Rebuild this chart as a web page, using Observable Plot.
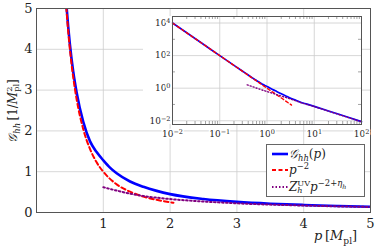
<!DOCTYPE html>
<html><head><meta charset="utf-8">
<script src="https://cdn.jsdelivr.net/npm/d3@7"></script>
<script src="https://cdn.jsdelivr.net/npm/@observablehq/plot@0.6"></script>
<style>
body{margin:0;background:#fff;}
#wrap{position:relative;width:376px;height:246px;font-family:"DejaVu Serif",serif;color:#222;overflow:hidden;}
#wrap svg text, #wrap svg tspan{font-family:"DejaVu Serif",serif !important;}
.abs{position:absolute;white-space:nowrap;}
sub,sup{font-size:70%;line-height:0;}
.stack{display:inline-block;vertical-align:middle;line-height:0.85;font-size:68%;text-align:left;margin-top:-2px;}
.stack span{display:block;}
</style></head><body>
<div id="wrap"></div>
<script>
// ---- data ----
const pBlue = [0.01,0.02,0.05,0.1,0.2,0.3,0.4,0.45,0.5,0.55,0.6,0.7,0.8,0.9,1.0,1.1,1.2,1.4,1.6,1.8,2.0,2.5,3.0,3.5,4.0,4.5,5.0,7,10,20,50,100];
const gBlue = [10000,2500,400,100,25.2,11.3,6.4,5.05,4.12,3.45,2.95,2.22,1.75,1.48,1.28,1.1,0.96,0.76,0.63,0.53,0.45,0.33,0.26,0.215,0.185,0.16,0.14,0.105,0.077,0.04,0.017,0.0088];
const pRed = [0.01,0.02,0.05,0.1,0.2,0.3,0.4,0.45,0.5,0.55,0.6,0.7,0.8,0.9,1,1.2,1.4,1.6,1.8,2.05,2.5,3.3];
const gRed = [10000,2500,400,100,25,11.1,6.25,4.94,4,3.31,2.78,2.04,1.56,1.23,1,0.69,0.51,0.39,0.31,0.24,0.16,0.092];
const pPurple = [0.38,0.5,0.7,1,1.5,2,2.5,3,4,5,7,10,20,50,100];
const gPurple = [1.6,1.22,0.87,0.62,0.43,0.33,0.27,0.225,0.17,0.135,0.1,0.074,0.039,0.0165,0.0086];
const mainXTicks = [1,2,3,4,5];
const mainYTicks = [0,1,2,3,4,5];
const mainGrid = [1,2,3,4];
const insetXTicks = [0.01,0.1,1,10,100];
const insetYTicks = [0.01,1,100,10000];
const insetYMinor = [0.1,10,1000];

const blue = pBlue.map((p,i)=>({p, g:gBlue[i]}));
const red = pRed.map((p,i)=>({p, g:gRed[i]}));
const purple = pPurple.map((p,i)=>({p, g:gPurple[i]}));
const minorX = [];
for (let d=-2; d<2; d++) for (let m=2; m<10; m++) minorX.push(m*Math.pow(10,d));

const FONT = '"DejaVu Serif", serif';
const wrap = document.getElementById("wrap");

const main = Plot.plot({
  width:376, height:246, marginLeft:36, marginRight:6, marginTop:8, marginBottom:34,
  x:{domain:[0,5]}, y:{domain:[0,5]},
  style:{fontFamily:FONT, fontSize:"13px", color:"#222", background:"white"},
  marks:[
    Plot.gridX(mainGrid,{stroke:"#cdcdcd", strokeOpacity:1, strokeWidth:0.8}),
    Plot.gridY(mainGrid,{stroke:"#cdcdcd", strokeOpacity:1, strokeWidth:0.8}),
    Plot.line(blue.filter(d=>d.p>=0.3),{x:"p", y:"g", stroke:"#0000ff", strokeWidth:2.6, curve:"monotone-x", clip:true}),
    Plot.line(red.filter(d=>d.p>=0.3 && d.p<=2.05),{x:"p", y:"g", stroke:"#ff0000", strokeWidth:2, strokeDasharray:"4.5,3", curve:"monotone-x", clip:true}),
    Plot.line(purple.filter(d=>d.p>=1),{x:"p", y:"g", stroke:"#800080", strokeWidth:2, strokeDasharray:"1.6,2.4", curve:"monotone-x", clip:true}),
    Plot.frame({stroke:"#555", strokeWidth:1}),
    Plot.axisX({ticks:mainXTicks, tickSize:0, tickPadding:6, label:null, tickFormat:d=>String(d), fontSize:13}),
    Plot.axisY({ticks:mainYTicks, tickSize:0, tickPadding:4, label:null, tickFormat:d=>String(d), fontSize:13})
  ]
});
main.style.position="absolute"; main.style.left="0px"; main.style.top="0px";
wrap.appendChild(main);

// white backing of the inset
const back = document.createElement("div");
back.className="abs";
Object.assign(back.style,{left:"143px",top:"16px",width:"218px",height:"108px",background:"white"});
wrap.appendChild(back);

const inset = Plot.plot({
  width:236, height:140, marginLeft:32, marginRight:15, marginTop:16, marginBottom:16,
  x:{type:"log", domain:[0.01,100]},
  y:{type:"log", domain:[Math.pow(10,-2.23), Math.pow(10,4.4)]},
  style:{fontFamily:FONT, fontSize:"9px", color:"#222", background:"transparent", overflow:"visible"},
  marks:[
    Plot.frame({fill:"white", stroke:null}),
    Plot.gridX(insetXTicks,{stroke:"#cdcdcd", strokeOpacity:1, strokeWidth:0.8}),
    Plot.gridY(insetYTicks,{stroke:"#cdcdcd", strokeOpacity:1, strokeWidth:0.8}),
    Plot.tickX(minorX,{x:d=>d, insetTop:105, stroke:"#666", strokeWidth:0.6}),
    Plot.tickX(minorX,{x:d=>d, insetBottom:105, stroke:"#666", strokeWidth:0.6}),
    Plot.tickY(insetYMinor,{y:d=>d, insetLeft:186, stroke:"#666", strokeWidth:0.6}),
    Plot.tickY(insetYMinor,{y:d=>d, insetRight:186, stroke:"#666", strokeWidth:0.6}),
    Plot.line(blue,{x:"p", y:"g", stroke:"#0000ff", strokeWidth:1.7, curve:"monotone-x"}),
    Plot.line(red.filter(d=>d.p<=3.3),{x:"p", y:"g", stroke:"#ff0000", strokeWidth:1.4, strokeDasharray:"3,2.5", curve:"monotone-x"}),
    Plot.line(purple,{x:"p", y:"g", stroke:"#800080", strokeWidth:1.4, strokeDasharray:"1.1,2", curve:"monotone-x"}),
    Plot.frame({stroke:"#555", strokeWidth:1}),
    Plot.axisX({ticks:insetXTicks, tickSize:0, tickPadding:6, label:null, fontSize:9, tickFormat:d=>"10^"+Math.round(Math.log10(d))}),
    Plot.axisY({ticks:insetYTicks, tickSize:0, tickPadding:2, label:null, fontSize:9, tickFormat:d=>"10^"+Math.round(Math.log10(d))})
  ]
});
inset.style.position="absolute"; inset.style.left="140px"; inset.style.top="0px";
wrap.appendChild(inset);
// superscript exponents
d3.select(inset).selectAll('g[aria-label="x-axis tick label"] text, g[aria-label="y-axis tick label"] text').each(function(){
  const s = this.textContent; const parts = s.split("^");
  const el = d3.select(this);
  el.text(null).attr("stroke","white").attr("stroke-width",3).attr("paint-order","stroke").attr("stroke-linejoin","round");
  el.append("tspan").text(parts[0]);
  el.append("tspan").attr("dy","-0.42em").attr("font-size","6.5px").text(parts[1].replace("-","\u2212"));
});

// axis labels
const xl = document.createElement("div");
xl.className="abs";
Object.assign(xl.style,{left:"314px",top:"228px",fontSize:"13px",lineHeight:"16px"});
xl.innerHTML='<i>p</i>&thinsp;[<i>M</i><sub>pl</sub>]';
wrap.appendChild(xl);

const yl = document.createElement("div");
yl.className="abs";
Object.assign(yl.style,{left:"13px",top:"111px",fontSize:"12px",lineHeight:"15px",transform:"translate(-50%,-50%) rotate(-90deg)"});
yl.innerHTML='<i>𝒢</i><sub><i>hh</i></sub>&thinsp;[1/<i>M</i><span class="stack"><span>2</span><span>pl</span></span>]';
wrap.appendChild(yl);

// legend
const lg = document.createElement("div");
lg.className="abs";
Object.assign(lg.style,{left:"266px",top:"144px",width:"97px",height:"51px",background:"white",border:"1px solid #666",fontSize:"12px"});
const rows = [
  {c:"#0000ff", w:2.6, dash:null, html:'<i>𝒢</i><sub><i>hh</i></sub>(<i>p</i>)'},
  {c:"#ff0000", w:2, dash:"4,2.5", html:'<i>p</i><sup>\u22122</sup>'},
  {c:"#800080", w:2, dash:"1.5,2", html:'<i>Z</i><span class="stack"><span>UV</span><span><i>h</i></span></span><i>p</i><sup>\u22122+<i>η</i><sub style="font-size:75%"><i>h</i></sub></sup>'}
];
rows.forEach((r,i)=>{
  const cy = 8.5 + i*16.8;
  const sw = document.createElementNS("http://www.w3.org/2000/svg","svg");
  sw.setAttribute("width",16); sw.setAttribute("height",6);
  Object.assign(sw.style,{position:"absolute",left:"5px",top:(cy-3)+"px"});
  const ln = document.createElementNS("http://www.w3.org/2000/svg","line");
  ln.setAttribute("x1",0); ln.setAttribute("x2",16); ln.setAttribute("y1",3); ln.setAttribute("y2",3);
  ln.setAttribute("stroke",r.c); ln.setAttribute("stroke-width",r.w);
  if (r.dash) ln.setAttribute("stroke-dasharray",r.dash);
  sw.appendChild(ln); lg.appendChild(sw);
  const t = document.createElement("div");
  t.className="abs";
  Object.assign(t.style,{left:"22px",top:(cy-8)+"px",lineHeight:"16px"});
  t.innerHTML=r.html;
  lg.appendChild(t);
});
wrap.appendChild(lg);
</script>
</body></html>
